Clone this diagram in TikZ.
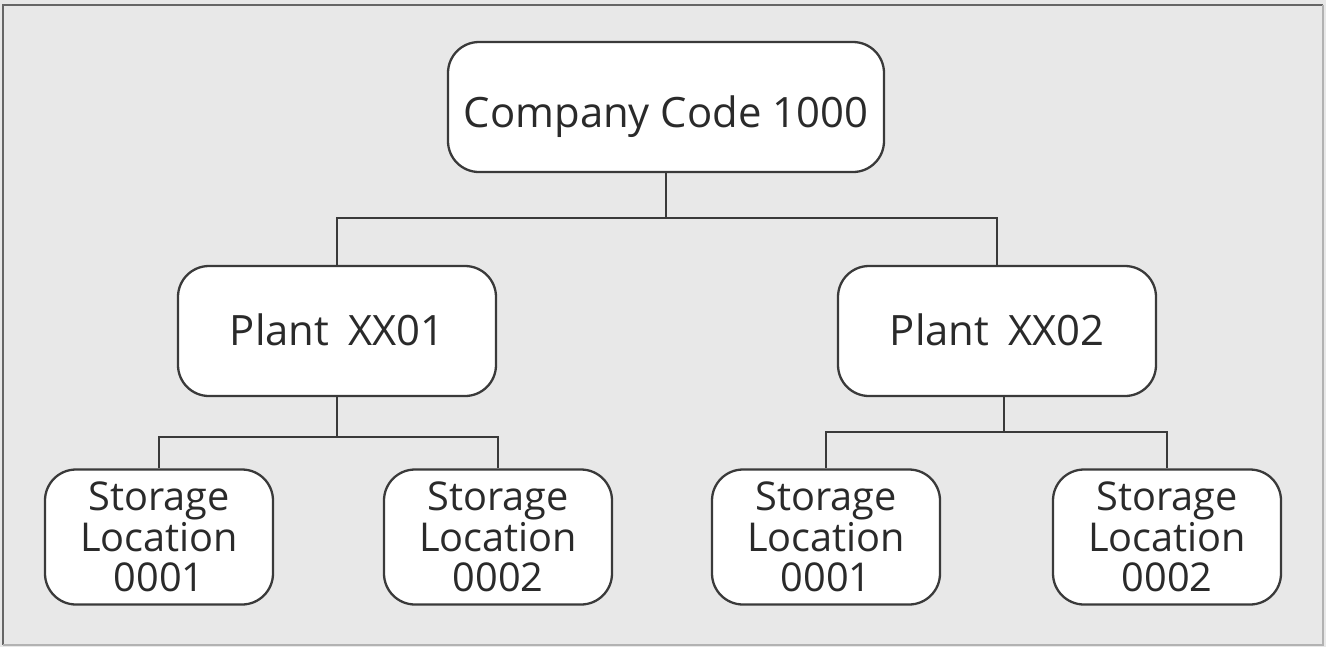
\documentclass[tikz,border=0pt]{standalone}
\usepackage{fontspec}
\setmainfont{Open Sans}
\definecolor{bg}{HTML}{E8E8E8}
\definecolor{ln}{HTML}{3A3A3A}
\definecolor{tx}{HTML}{2A2A2A}
\tikzset{
  box/.style={draw=ln, line width=1.3pt, fill=white, rounded corners=0.62cm, align=center, inner sep=0pt, text=tx},
  big/.style={box, font=\fontsize{23.8}{26}\selectfont, text height=17pt, text depth=0pt},
  small/.style={box, font=\fontsize{22.6}{23.2}\selectfont},
  conn/.style={draw=ln, line width=1.2pt}
}
\begin{document}
\begin{tikzpicture}[x=0.02cm,y=-0.02cm]
\useasboundingbox (0,0) rectangle (1326,647);
\fill[bg] (0,0) rectangle (1326,647);
\draw[color=gray!80!black, line width=1.5pt] (3,645) -- (3,5) -- (1323,5);
\draw[color=gray!60, line width=1pt] (3,645) -- (1323,645) -- (1323,5);
\node[big, minimum width=436*0.02cm, minimum height=130*0.02cm] (cc) at (666,107) {\raisebox{-3pt}{Company Code 1000}};
\node[big, minimum width=318*0.02cm, minimum height=130*0.02cm] (p1) at (337,331) {Plant\hspace{0.45em}XX01};
\node[big, minimum width=318*0.02cm, minimum height=130*0.02cm] (p2) at (997,331) {Plant\hspace{0.45em}XX02};
\node[small, minimum width=228*0.02cm, minimum height=135*0.02cm] (s11) at (159,537) {Storage\\Location\\0001};
\node[small, minimum width=228*0.02cm, minimum height=135*0.02cm] (s12) at (498,537) {Storage\\Location\\0002};
\node[small, minimum width=228*0.02cm, minimum height=135*0.02cm] (s21) at (826,537) {Storage\\Location\\0001};
\node[small, minimum width=228*0.02cm, minimum height=135*0.02cm] (s22) at (1167,537) {Storage\\Location\\0002};
\coordinate (j0) at (666,218);
\coordinate (j1) at (337,437);
\coordinate (j2) at (1004,432);
\draw[conn] (cc.south) -- (j0);
\draw[conn] (p1.north) |- (j0) -| (p2.north);
\draw[conn] (p1.south) -- (j1);
\draw[conn] (s11.north) |- (j1) -| (s12.north);
\draw[conn] (p2.south -| j2) -- (j2);
\draw[conn] (s21.north) |- (j2) -| (s22.north);
\end{tikzpicture}
\end{document}
